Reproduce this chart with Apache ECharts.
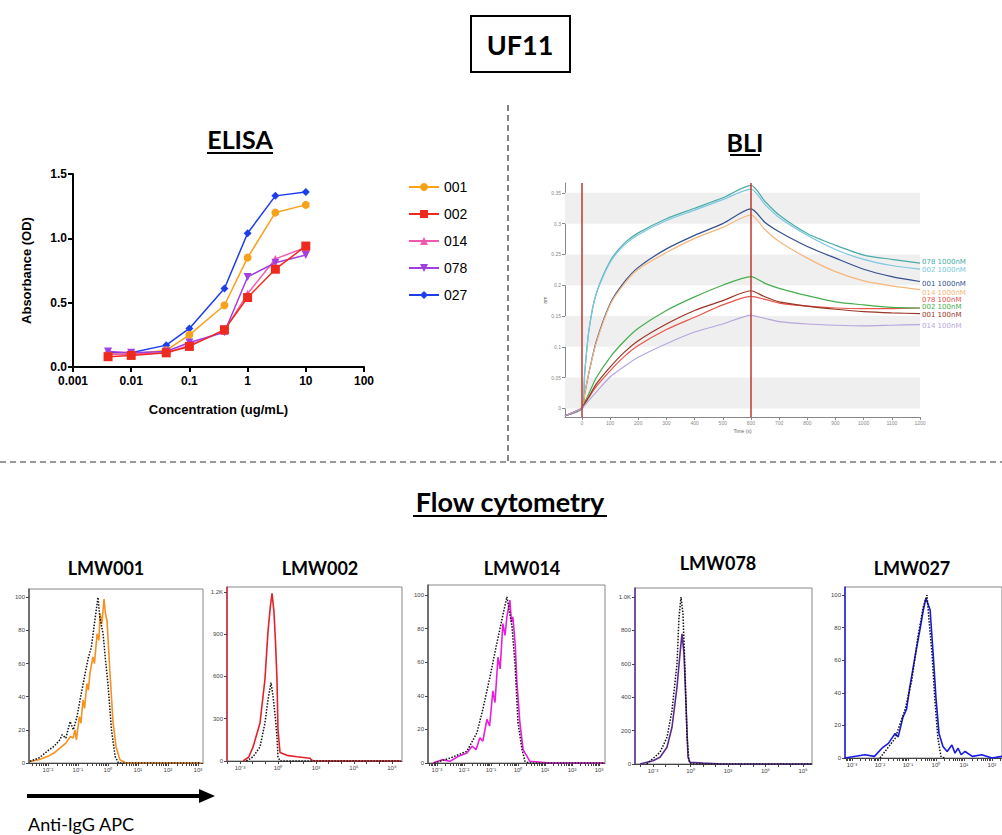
<!DOCTYPE html>
<html>
<head>
<meta charset="utf-8">
<script src="https://cdn.jsdelivr.net/npm/echarts@6/dist/echarts.min.js"></script>
<style>
html, body { margin: 0; padding: 0; background: #fff; }
#main { width: 1002px; height: 835px; }
</style>
</head>
<body>
<div id="main"></div>
<script>
// ---- ELISA ----
var elisaConc = [0.004, 0.01, 0.04, 0.1, 0.4, 1, 3, 10];
var od001 = [0.10, 0.10, 0.13, 0.25, 0.48, 0.85, 1.20, 1.26];
var od002 = [0.08, 0.09, 0.11, 0.16, 0.29, 0.54, 0.76, 0.94];
var od014 = [0.10, 0.10, 0.11, 0.17, 0.28, 0.57, 0.84, 0.93];
var od078 = [0.12, 0.11, 0.12, 0.19, 0.27, 0.70, 0.81, 0.87];
var od027 = [0.11, 0.11, 0.17, 0.30, 0.61, 1.04, 1.33, 1.36];

// ---- BLI (nm vs time, s) ----
var bliTime = [-60, 0, 10, 25, 50, 100, 150, 200, 300, 400, 500, 600, 650, 700, 800, 900, 1000, 1100, 1200];
var bli078hi = [-0.012, 0, 0.058, 0.127, 0.185, 0.239, 0.268, 0.285, 0.308, 0.325, 0.342, 0.362, 0.336, 0.314, 0.284, 0.265, 0.249, 0.242, 0.236];
var bli002hi = [-0.012, 0, 0.058, 0.127, 0.185, 0.237, 0.265, 0.282, 0.305, 0.322, 0.339, 0.356, 0.331, 0.310, 0.281, 0.258, 0.242, 0.232, 0.226];
var bli001hi = [-0.012, 0, 0.024, 0.058, 0.107, 0.170, 0.205, 0.229, 0.259, 0.281, 0.300, 0.324, 0.302, 0.287, 0.263, 0.244, 0.226, 0.214, 0.206];
var bli014hi = [-0.012, 0, 0.024, 0.058, 0.105, 0.168, 0.202, 0.226, 0.253, 0.276, 0.294, 0.314, 0.290, 0.271, 0.244, 0.222, 0.207, 0.199, 0.193];
var bli078lo = [-0.012, 0, 0.007, 0.018, 0.035, 0.061, 0.084, 0.102, 0.128, 0.148, 0.168, 0.182, 0.177, 0.171, 0.166, 0.163, 0.162, 0.162, 0.163];
var bli002lo = [-0.012, 0, 0.010, 0.024, 0.049, 0.083, 0.109, 0.130, 0.159, 0.181, 0.200, 0.214, 0.203, 0.195, 0.183, 0.173, 0.168, 0.164, 0.163];
var bli001lo = [-0.012, 0, 0.008, 0.019, 0.039, 0.067, 0.091, 0.110, 0.137, 0.159, 0.175, 0.191, 0.181, 0.173, 0.166, 0.161, 0.157, 0.155, 0.154];
var bli014lo = [-0.012, 0, 0.005, 0.013, 0.026, 0.051, 0.068, 0.083, 0.105, 0.124, 0.137, 0.151, 0.146, 0.141, 0.137, 0.135, 0.134, 0.135, 0.136];
var bliTicksY = [0, 0.05, 0.1, 0.15, 0.2, 0.25, 0.3, 0.35];
var bliTicksX = [0, 100, 200, 300, 400, 500, 600, 700, 800, 900, 1000, 1100, 1200];
var bliSteps = [0, 600];

// ---- Flow cytometry histograms: [log10 intensity, count] ----
var flow001Stain = [[-2.6,1],[-2.3,2],[-2.0,4],[-1.8,6],[-1.6,9],[-1.4,12],[-1.25,16],[-1.16,15],[-1.1,20],[-1.05,14],[-0.95,28],[-0.9,24],[-0.83,38],[-0.78,33],[-0.7,48],[-0.65,44],[-0.6,54],[-0.5,64],[-0.45,60],[-0.36,78],[-0.3,74],[-0.26,90],[-0.2,84],[-0.13,99],[-0.08,90],[-0.03,86],[0.07,54],[0.17,25],[0.27,10],[0.4,2],[0.6,0],[3.1,0]];
var flow001Ctrl = [[-2.6,1],[-2.3,3],[-1.96,8],[-1.8,10],[-1.6,14],[-1.53,17],[-1.4,15],[-1.26,25],[-1.15,20],[-1.03,28],[-0.93,38],[-0.8,50],[-0.66,63],[-0.55,70],[-0.45,84],[-0.33,100],[-0.27,88],[-0.16,78],[-0.08,62],[0.0,48],[0.12,20],[0.24,4],[0.35,0],[3.1,0]];
var flow002Stain = [[-2.76,0],[-2.3,30],[-1.97,100],[-1.42,270],[-1.03,580],[-0.79,920],[-0.6,1100],[-0.47,1190],[-0.32,1060],[-0.2,850],[-0.08,580],[0,220],[0.16,60],[0.71,40],[1.5,30],[2.52,20],[2.76,0],[9.7,0]];
var flow002Ctrl = [[-2.5,0],[-1.97,30],[-1.42,100],[-1.03,270],[-0.79,435],[-0.55,557],[-0.39,457],[-0.2,300],[-0.08,171],[0,29],[0.16,0],[9.7,0]];
var flow014Stain = [[-3.15,0],[-2.8,2],[-2.52,1],[-2.2,4],[-1.89,6],[-1.7,10],[-1.55,8],[-1.41,15],[-1.3,13],[-1.15,26],[-1.05,22],[-0.93,43],[-0.85,36],[-0.74,63],[-0.66,56],[-0.56,83],[-0.48,76],[-0.41,87],[-0.3,97],[-0.24,84],[-0.19,87],[-0.1,70],[-0.04,48],[0.07,24],[0.19,8],[0.44,1],[1.19,0],[3.2,0]];
var flow014Ctrl = [[-3.1,0],[-2.5,3],[-1.89,7],[-1.52,18],[-1.3,32],[-1.04,51],[-0.8,70],[-0.6,85],[-0.41,99],[-0.22,81],[-0.11,59],[0,24],[0.15,8],[0.26,1],[0.4,0],[3.2,0]];
var flow078Stain = [[-4.04,0],[-3,20],[-2.44,40],[-1.88,100],[-1.48,220],[-1.08,460],[-0.84,660],[-0.68,780],[-0.52,660],[-0.36,360],[-0.2,40],[-0.04,10],[1.0,5],[2.5,0],[9.7,0]];
var flow078Ctrl = [[-3.5,0],[-2.44,70],[-1.88,160],[-1.48,320],[-1.08,600],[-0.92,880],[-0.76,1000],[-0.6,900],[-0.44,560],[-0.28,160],[-0.12,20],[0.05,0],[9.7,0]];
var flow027Stain = [[-3.25,0],[-2.54,2],[-2.2,1],[-1.93,6],[-1.7,9],[-1.46,15],[-1.35,13],[-1.18,25],[-1.05,30],[-0.93,44],[-0.75,62],[-0.57,79],[-0.45,91],[-0.36,98],[-0.21,91],[-0.1,64],[0,37],[0.11,15],[0.25,7],[0.4,4],[0.57,8],[0.68,3],[0.79,6],[0.9,2],[1.04,4],[1.3,1],[1.64,2],[2.0,0],[2.36,1]];
var flow027Ctrl = [[-2.0,0],[-1.46,12],[-1.1,30],[-0.86,48],[-0.64,75],[-0.45,93],[-0.32,100],[-0.25,85],[-0.14,64],[-0.04,36],[0.07,12],[0.18,1],[0.3,0]];
var flowPctTicks = [0, 20, 40, 60, 80, 100];
var flow002Ticks = [0, 300, 600, 900, 1200];
var flow078Ticks = [0, 200, 400, 600, 800, 1000];

var chart = echarts.init(document.getElementById('main'), null, { renderer: 'svg' });

var supMap = { '-': '⁻', '0': '⁰', '1': '¹', '2': '²', '3': '³', '4': '⁴', '5': '⁵', '6': '⁶', '7': '⁷', '8': '⁸', '9': '⁹' };
function decadeLabel(v) {
    var s = String(Math.round(v));
    return '10' + s.split('').map(function (c) { return supMap[c]; }).join('');
}
function kLabel(v) {
    return v >= 1000 ? (v / 1000).toFixed(1) + 'K' : String(v);
}
// tick marks of a log-like axis: decades plus in-between marks
function minorDecades(lo, hi, step) {
    var out = [];
    for (var d = Math.ceil(lo) - step; d <= hi; d += step) {
        out.push(d);
        if (step === 1) {
            for (var k = 2; k < 10; k++) out.push(d + Math.log10(k));
        } else {
            out.push(d + 1, d + 2);
        }
    }
    return out.filter(function (t) { return t >= lo && t <= hi; });
}

var grids = [];
var xAxes = [];
var yAxes = [];
var series = [];
var graphics = [];

// ---- ELISA grid ----
grids.push({ left: 73, top: 174, width: 291, height: 193 });
var boldArial = { fontFamily: 'Liberation Sans', fontWeight: 'bold', color: '#000' };
xAxes.push({
    type: 'log', gridIndex: 0, min: 0.001, max: 100, logBase: 10,
    name: 'Concentration (ug/mL)', nameLocation: 'middle', nameGap: 36,
    nameTextStyle: Object.assign({ fontSize: 13 }, boldArial),
    axisLine: { onZero: false, lineStyle: { color: '#000', width: 2 } },
    axisTick: { length: 5, lineStyle: { color: '#000', width: 2 } },
    axisLabel: Object.assign({ fontSize: 12, margin: 8, formatter: function (v) { return String(Number(v.toPrecision(1))); } }, boldArial),
    splitLine: { show: false }, minorTick: { show: false }
});
yAxes.push({
    type: 'value', gridIndex: 0, min: 0, max: 1.5, interval: 0.5,
    name: 'Absorbance (OD)', nameLocation: 'middle', nameGap: 40,
    nameTextStyle: Object.assign({ fontSize: 13 }, boldArial),
    axisLine: { show: true, onZero: false, lineStyle: { color: '#000', width: 2 } },
    axisTick: { show: true, length: 5, lineStyle: { color: '#000', width: 2 } },
    axisLabel: Object.assign({ fontSize: 12, margin: 6, formatter: function (v) { return v.toFixed(1); } }, boldArial),
    splitLine: { show: false }
});
var elisaSeries = [
    { name: '001', values: od001, color: '#F7A21B', symbol: 'circle', size: 8, rot: 0, z: 4 },
    { name: '002', values: od002, color: '#EE2A1F', symbol: 'rect', size: 9, rot: 0, z: 6 },
    { name: '014', values: od014, color: '#F05AAE', symbol: 'triangle', size: 8, rot: 0, z: 5 },
    { name: '078', values: od078, color: '#A23FE0', symbol: 'triangle', size: 8, rot: 180, z: 5 },
    { name: '027', values: od027, color: '#1E3DEB', symbol: 'diamond', size: 8, rot: 0, z: 3 }
];
elisaSeries.forEach(function (s) {
    series.push({
        name: s.name, type: 'line', xAxisIndex: 0, yAxisIndex: 0,
        data: elisaConc.map(function (c, i) { return [c, s.values[i]]; }),
        symbol: s.symbol, symbolSize: s.size, symbolRotate: s.rot,
        lineStyle: { color: s.color, width: 1.5 }, itemStyle: { color: s.color },
        z: s.z, animation: false
    });
});

// ---- BLI grid ----
grids.push({ left: 565, top: 183, width: 355, height: 234 });
xAxes.push({
    type: 'value', gridIndex: 1, min: -60, max: 1200,
    name: 'Time (s)', nameLocation: 'middle', nameGap: 11,
    nameTextStyle: { fontSize: 5, color: '#666' },
    axisLine: { onZero: false, lineStyle: { color: '#888', width: 1 } },
    axisTick: { length: 3, customValues: bliTicksX, lineStyle: { color: '#888' } },
    axisLabel: { fontSize: 5, color: '#888', margin: 3, customValues: bliTicksX,
        formatter: function (v) { return String(v); } },
    splitLine: { show: false }
});
yAxes.push({
    type: 'value', gridIndex: 1, min: -0.014, max: 0.366,
    name: 'nm', nameLocation: 'middle', nameGap: 18,
    nameTextStyle: { fontSize: 5, color: '#666' },
    axisLine: { show: true, onZero: false, lineStyle: { color: '#888', width: 1 } },
    axisTick: { show: true, length: 3, customValues: bliTicksY, lineStyle: { color: '#888' } },
    axisLabel: { fontSize: 5, color: '#888', margin: 4, customValues: bliTicksY,
        formatter: function (v) { return String(Number(v.toFixed(2))); } },
    splitLine: { show: false }
});
// grey bands and the two step markers
series.push({
    name: 'bands', type: 'line', xAxisIndex: 1, yAxisIndex: 1,
    data: bliTime.map(function (t, i) { return [t, bli014lo[i]]; }),
    symbol: 'none', lineStyle: { opacity: 0 }, z: 1, silent: true, animation: false,
    markArea: {
        silent: true, itemStyle: { color: '#EFEFEF' },
        data: [[{ yAxis: 0.3 }, { yAxis: 0.35 }], [{ yAxis: 0.2 }, { yAxis: 0.25 }],
               [{ yAxis: 0.1 }, { yAxis: 0.15 }], [{ yAxis: 0 }, { yAxis: 0.05 }]]
    },
    markLine: {
        silent: true, symbol: 'none', label: { show: false },
        lineStyle: { color: '#C0392B', width: 1.5, type: 'solid' },
        data: bliSteps.map(function (t) { return { xAxis: t }; })
    }
});
var bliSeries = [
    { name: '078 1000nM', values: bli078hi, color: '#4AABA6', dy: -1 },
    { name: '002 1000nM', values: bli002hi, color: '#7CC6E0', dy: 1 },
    { name: '001 1000nM', values: bli001hi, color: '#34508F', dy: 2 },
    { name: '014 1000nM', values: bli014hi, color: '#F5B67A', dy: 3 },
    { name: '078 100nM', values: bli078lo, color: '#E8554B', dy: -8 },
    { name: '002 100nM', values: bli002lo, color: '#46AE4E', dy: -1 },
    { name: '001 100nM', values: bli001lo, color: '#9A3626', dy: 1 },
    { name: '014 100nM', values: bli014lo, color: '#B6A6DC', dy: 1 }
];
bliSeries.forEach(function (s) {
    series.push({
        name: s.name, type: 'line', xAxisIndex: 1, yAxisIndex: 1,
        data: bliTime.map(function (t, i) { return [t, s.values[i]]; }),
        symbol: 'none', smooth: 0.25,
        lineStyle: { color: s.color, width: 1.2 }, itemStyle: { color: s.color },
        endLabel: { show: true, formatter: s.name, color: s.color, fontSize: 7,
            fontFamily: 'DejaVu Sans', distance: 2, offset: [0, s.dy] },
        z: 3, animation: false
    });
});

// ---- Flow cytometry grids ----
var flowPanels = [
    { title: 'LMW001', stain: flow001Stain, ctrl: flow001Ctrl, color: '#F7901E', axisColor: '#555',
      grid: { left: 29, top: 589, width: 174, height: 174 }, xMin: -2.63, xMax: 3.17, xLabels: [-2, -1, 0, 1, 2, 3], xStep: 1,
      yMax: 105, yTicks: flowPctTicks, tx: 106, ty: 568 },
    { title: 'LMW002', stain: flow002Stain, ctrl: flow002Ctrl, color: '#E4202A', axisColor: '#D02030',
      grid: { left: 227, top: 587, width: 175, height: 174 }, xMin: -4.03, xMax: 9.8, xLabels: [-3, 0, 3, 6, 9], xStep: 3,
      yMax: 1235, yTicks: flow002Ticks, tx: 320, ty: 568 },
    { title: 'LMW014', stain: flow014Stain, ctrl: flow014Ctrl, color: '#E81EDC', axisColor: '#555',
      grid: { left: 428, top: 585, width: 177, height: 178 }, xMin: -3.33, xMax: 3.22, xLabels: [-3, -2, -1, 0, 1, 2, 3], xStep: 1,
      yMax: 106, yTicks: flowPctTicks, tx: 522, ty: 568 },
    { title: 'LMW078', stain: flow078Stain, ctrl: flow078Ctrl, color: '#5A2C92', axisColor: '#5A2C92',
      grid: { left: 635, top: 588, width: 177, height: 176 }, xMin: -4.44, xMax: 9.72, xLabels: [-3, 0, 3, 6, 9], xStep: 3,
      yMax: 1054, yTicks: flow078Ticks, tx: 718, ty: 563 },
    { title: 'LMW027', stain: flow027Stain, ctrl: flow027Ctrl, color: '#1A1AE6', axisColor: '#1A1AE6',
      grid: { left: 845, top: 587, width: 157, height: 171 }, xMin: -3.25, xMax: 2.36, xLabels: [-3, -2, -1, 0, 1, 2], xStep: 1,
      yMax: 105, yTicks: flowPctTicks, tx: 912, ty: 568 }
];
flowPanels.forEach(function (p, k) {
    var gi = 2 + k;
    grids.push(Object.assign({ show: true, borderColor: '#888', borderWidth: 1, backgroundColor: '#fff' }, p.grid));
    xAxes.push({
        type: 'value', gridIndex: gi, min: p.xMin, max: p.xMax,
        axisLine: { onZero: false, lineStyle: { color: '#444', width: 1 } },
        axisTick: { length: 3, customValues: minorDecades(p.xMin, p.xMax, p.xStep), lineStyle: { color: '#444' } },
        axisLabel: { fontSize: 6, color: '#444', margin: 4, customValues: p.xLabels, formatter: decadeLabel },
        splitLine: { show: false }
    });
    yAxes.push({
        type: 'value', gridIndex: gi, min: 0, max: p.yMax,
        axisLine: { show: true, onZero: false, lineStyle: { color: p.axisColor, width: 1.5 } },
        axisTick: { show: true, length: 3, customValues: p.yTicks, lineStyle: { color: '#444' } },
        axisLabel: { fontSize: 6, color: '#444', margin: 4, customValues: p.yTicks, formatter: kLabel },
        splitLine: { show: false }
    });
    series.push({
        name: p.title + ' control', type: 'line', xAxisIndex: gi, yAxisIndex: gi,
        data: p.ctrl, symbol: 'none',
        lineStyle: { color: '#111', width: 1.5, type: 'dotted' }, z: 4, animation: false
    });
    series.push({
        name: p.title, type: 'line', xAxisIndex: gi, yAxisIndex: gi,
        data: p.stain, symbol: 'none',
        lineStyle: { color: p.color, width: 1.6 }, z: 3, animation: false
    });
    graphics.push({ type: 'text', x: p.tx, y: p.ty,
        style: { text: p.title, font: 'bold 18px Lato', fill: '#000', align: 'center', verticalAlign: 'middle' } });
});

// ---- headings, separators, arrow ----
function heading(text, cx, cy, size, ulY, halfW) {
    graphics.push({ type: 'text', x: cx, y: cy,
        style: { text: text, font: 'bold ' + size + 'px Lato', fill: '#000', align: 'center', verticalAlign: 'middle' } });
    graphics.push({ type: 'line', shape: { x1: cx - halfW, y1: ulY, x2: cx + halfW, y2: ulY },
        style: { stroke: '#000', lineWidth: 2 } });
}
graphics.push({ type: 'rect', shape: { x: 471, y: 16, width: 99, height: 56 },
    style: { fill: 'none', stroke: '#000', lineWidth: 2 } });
graphics.push({ type: 'text', x: 520, y: 44,
    style: { text: 'UF11', font: 'bold 27px Lato', fill: '#000', align: 'center', verticalAlign: 'middle' } });
heading('ELISA', 240, 139, 25, 153, 33);
heading('BLI', 745, 142, 25, 155, 15);
heading('Flow cytometry', 510, 501, 27, 516, 97);
graphics.push({ type: 'line', shape: { x1: 508, y1: 105, x2: 508, y2: 462 },
    style: { stroke: '#333', lineWidth: 1.2, lineDash: [6, 4] } });
graphics.push({ type: 'line', shape: { x1: 0, y1: 462, x2: 1002, y2: 462 },
    style: { stroke: '#333', lineWidth: 1.2, lineDash: [6, 4] } });
graphics.push({ type: 'line', shape: { x1: 27, y1: 796, x2: 202, y2: 796 },
    style: { stroke: '#000', lineWidth: 4 } });
graphics.push({ type: 'polygon', shape: { points: [[199, 789], [215, 796], [199, 803]] },
    style: { fill: '#000' } });
graphics.push({ type: 'text', x: 28, y: 824,
    style: { text: 'Anti-IgG APC', font: '18px Lato', fill: '#000', align: 'left', verticalAlign: 'middle' } });

var option = {
    backgroundColor: '#fff',
    animation: false,
    legend: {
        data: ['001', '002', '014', '078', '027'],
        orient: 'vertical', left: 403, top: 175,
        itemWidth: 30, itemHeight: 10, itemGap: 13,
        textStyle: { fontSize: 14, fontFamily: 'Liberation Sans', color: '#000' }
    },
    grid: grids,
    xAxis: xAxes,
    yAxis: yAxes,
    series: series,
    graphic: graphics
};
chart.setOption(option);
</script>
</body>
</html>
